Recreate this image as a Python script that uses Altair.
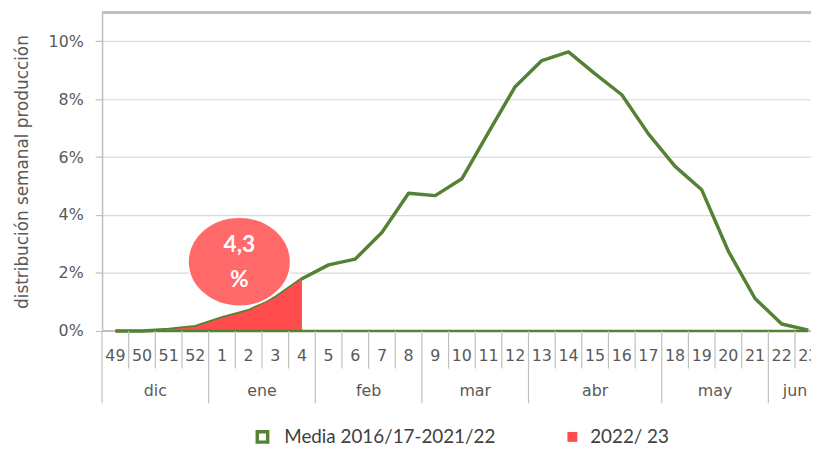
import altair as alt
import pandas as pd

weeks = ["49", "50", "51", "52", "1", "2", "3", "4", "5", "6", "7", "8", "9", "10",
         "11", "12", "13", "14", "15", "16", "17", "18", "19", "20", "21", "22", "23"]
media = [0.0, 0.0, 0.05, 0.15, 0.45, 0.7, 1.15, 1.8, 2.28, 2.48, 3.4, 4.75, 4.67, 5.25,
         6.85, 8.43, 9.33, 9.63, 8.87, 8.15, 6.8, 5.68, 4.87, 2.75, 1.12, 0.24, 0.03]
campaign_weeks = ["49", "50", "51", "52", "1", "2", "3", "4"]
campaign = [0.0, 0.0, 0.05, 0.15, 0.45, 0.7, 1.15, 1.8]
months = ["dic", "ene", "feb", "mar", "abr", "may", "jun"]
month_weeks = [4, 4, 4, 4, 5, 4, 2]
y_ticks = [0, 2, 4, 6, 8, 10]
bubble_label = ["4,3", "%"]
legend_labels = ["Media 2016/17-2021/22", "2022/ 23"]

W, H = 716, 322
GREEN = "#548235"
RED = "#ff4d4d"
GRAY_TXT = "#595959"
FONT = "DejaVu Sans"

df = pd.DataFrame({"week": weeks, "pos": [i + 0.5 for i in range(len(weeks))], "media": media})
dc = pd.DataFrame({"week": campaign_weeks, "pos": [i + 0.5 for i in range(len(campaign_weeks))],
                   "val": campaign})

bounds = [0]
for n in month_weeks:
    bounds.append(bounds[-1] + n)
dm = pd.DataFrame({"month": months,
                   "center": [(bounds[i] + bounds[i + 1]) / 2 for i in range(len(months))]})
month_b = pd.DataFrame({"b": bounds})
week_b = pd.DataFrame({"b": [i for i in range(1, len(weeks)) if i not in bounds]})

xscale = alt.Scale(domain=[0, 26.6], nice=False, zero=False)
yscale = alt.Scale(domain=[0, 11], nice=False)

base = alt.Chart(df)

line = base.mark_line(color=GREEN, strokeWidth=3.5, strokeJoin="round").encode(
    x=alt.X("pos:Q", scale=xscale, axis=None),
    y=alt.Y("media:Q", scale=yscale,
            axis=alt.Axis(values=y_ticks, labelExpr="datum.value + '%'",
                          title="distribución semanal producción",
                          grid=True, gridColor="#d9d9d9", gridWidth=1.2,
                          domainColor="#bfbfbf", domainWidth=1.5,
                          tickColor="#bfbfbf", tickSize=7, tickWidth=1.2,
                          labelColor=GRAY_TXT, labelFont=FONT, labelFontSize=16,
                          labelPadding=12, titleColor=GRAY_TXT, titleFont=FONT,
                          titleFontSize=17, titleFontWeight="normal", titlePadding=17)),
)

area = alt.Chart(dc).mark_area(color=RED, opacity=1).encode(
    x=alt.X("pos:Q", scale=xscale), y=alt.Y("val:Q", scale=yscale))

gray_base = alt.Chart(df).mark_rule(color="#bfbfbf", strokeWidth=1.5).encode(
    x=alt.value(0), x2=alt.value(W), y=alt.Y(datum=0, scale=yscale))
green_base = alt.Chart(df).transform_aggregate(
    lo="min(pos)", hi="max(pos)").mark_rule(color=GREEN, strokeWidth=2.5).encode(
    x=alt.X("lo:Q", scale=xscale), x2="hi:Q", y=alt.Y(datum=0, scale=yscale))
top_border = alt.Chart(df).mark_rule(color="#bfbfbf", strokeWidth=2).encode(
    x=alt.value(0), x2=alt.value(W), y=alt.Y(datum=11, scale=yscale))

week_sep = alt.Chart(week_b).mark_rule(color="#bfbfbf", strokeWidth=1.2).encode(
    x=alt.X("b:Q", scale=xscale), y=alt.value(H), y2=alt.value(H + 38))
month_sep = alt.Chart(month_b).mark_rule(color="#bfbfbf", strokeWidth=1.2).encode(
    x=alt.X("b:Q", scale=xscale), y=alt.value(H), y2=alt.value(H + 73))

week_txt = base.mark_text(font=FONT, fontSize=16, color=GRAY_TXT, baseline="middle").encode(
    x=alt.X("pos:Q", scale=xscale), y=alt.value(H + 25), text="week:N")
month_txt = alt.Chart(dm).mark_text(font=FONT, fontSize=16, color=GRAY_TXT,
                                    baseline="middle").encode(
    x=alt.X("center:Q", scale=xscale), y=alt.value(H + 61), text="month:N")

bub = pd.DataFrame({"x": [5.15], "y": [2.39], "t1": [bubble_label[0]], "t2": [bubble_label[1]]})
ellipse_path = "M -1.15 0 A 1.15 1 0 1 0 1.15 0 A 1.15 1 0 1 0 -1.15 0 Z"
bubble = alt.Chart(bub).mark_point(shape=ellipse_path, size=8172, filled=True,
                                   fill="#ff5c5c", fillOpacity=0.92,
                                   stroke="white", strokeWidth=2, opacity=1).encode(
    x=alt.X("x:Q", scale=xscale), y=alt.Y("y:Q", scale=yscale))
bt1 = alt.Chart(bub).mark_text(font="Lato", fontWeight="bold", fontSize=23, color="white",
                               dy=-17).encode(
    x=alt.X("x:Q", scale=xscale), y=alt.Y("y:Q", scale=yscale), text="t1:N")
bt2 = alt.Chart(bub).mark_text(font="Lato", fontWeight="bold", fontSize=23, color="white",
                               dy=19).encode(
    x=alt.X("x:Q", scale=xscale), y=alt.Y("y:Q", scale=yscale), text="t2:N")

leg = pd.DataFrame({"label": legend_labels})
leg1_sym = alt.Chart(leg).transform_filter("datum.label == '%s'" % legend_labels[0]).mark_point(
    shape="square", size=110, filled=False, stroke=GREEN, strokeWidth=3.5, opacity=1).encode(
    x=alt.value(162), y=alt.value(429))
leg1_txt = alt.Chart(leg).transform_filter("datum.label == '%s'" % legend_labels[0]).mark_text(
    font="Lato", fontSize=19, color="#404040", align="left", baseline="middle").encode(
    x=alt.value(184), y=alt.value(429), text="label:N")
leg2_sym = alt.Chart(leg).transform_filter("datum.label == '%s'" % legend_labels[1]).mark_point(
    shape="square", size=100, filled=True, fill=RED, opacity=1).encode(
    x=alt.value(475), y=alt.value(429))
leg2_txt = alt.Chart(leg).transform_filter("datum.label == '%s'" % legend_labels[1]).mark_text(
    font="Lato", fontSize=19, color="#404040", align="left", baseline="middle").encode(
    x=alt.value(493), y=alt.value(429), text="label:N")

chart = alt.layer(
    line, gray_base, area, green_base, top_border, week_sep, month_sep, week_txt, month_txt,
    bubble, bt1, bt2, leg1_sym, leg1_txt, leg2_sym, leg2_txt
).properties(
    width=W, height=H,
    autosize=alt.AutoSizeParams(type="none"),
    padding={"left": 95, "top": 2, "right": 0, "bottom": 116},
).configure_view(stroke=None).configure(background="white")

chart.save("out.html", embed_options={"renderer": "svg", "actions": False})
